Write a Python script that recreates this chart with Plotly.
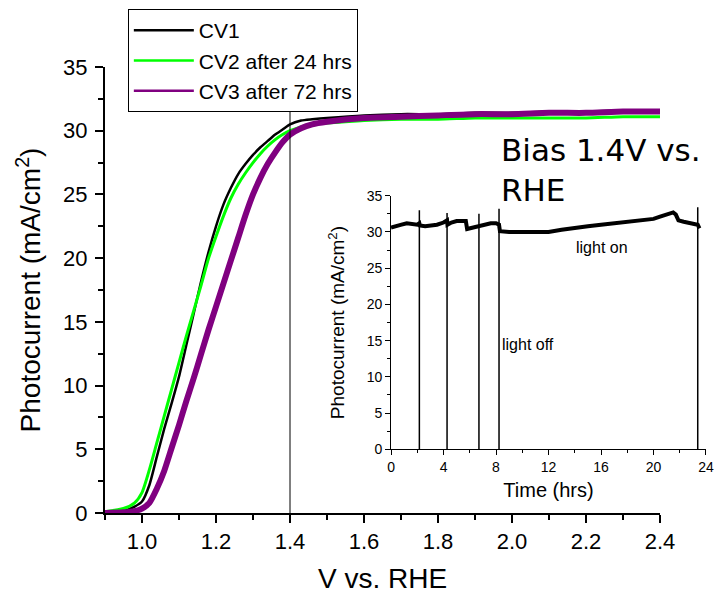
import plotly.graph_objects as go

# CV scans (V vs. RHE, mA/cm2)
volts = [0.90, 0.95, 0.98, 1.00, 1.02, 1.04, 1.06, 1.08, 1.10, 1.12, 1.14, 1.16,
         1.18, 1.20, 1.22, 1.24, 1.26, 1.28, 1.30, 1.32, 1.34, 1.36, 1.38, 1.40,
         1.43, 1.46, 1.50, 1.60, 1.70, 1.80, 1.90, 2.00, 2.10, 2.20, 2.30, 2.40]
cv1 = [0.05, 0.15, 0.5, 0.9, 2.2, 4.4, 6.6, 8.6, 10.7, 13.2, 15.7, 18.2,
       20.5, 22.5, 24.2, 25.5, 26.6, 27.4, 28.1, 28.7, 29.2, 29.7, 30.1, 30.5,
       30.8, 30.9, 31.0, 31.2, 31.3, 31.3, 31.4, 31.4, 31.5, 31.5, 31.6, 31.6]
cv2 = [0.1, 0.35, 0.8, 1.6, 3.4, 5.5, 7.6, 9.7, 11.8, 13.9, 15.9, 17.9,
       20.0, 21.7, 23.3, 24.7, 25.8, 26.7, 27.5, 28.2, 28.8, 29.3, 29.7, 30.0,
       30.3, 30.5, 30.6, 30.8, 30.9, 30.9, 31.0, 31.0, 31.0, 31.0, 31.1, 31.1]
cv3 = [0.0, 0.05, 0.15, 0.35, 0.8, 1.9, 3.3, 5.1, 6.9, 8.8, 10.6, 12.5,
       14.4, 16.2, 18.0, 19.8, 21.6, 23.4, 25.0, 26.3, 27.4, 28.3, 29.1, 29.7,
       30.2, 30.5, 30.7, 31.0, 31.1, 31.2, 31.3, 31.3, 31.4, 31.4, 31.5, 31.5]
cv_names = ["CV1", "CV2 after 24 hrs", "CV3 after 72 hrs"]

# stability test at 1.4 V (time in hrs)
hours = [0, 0.3, 0.8, 1.2, 1.6, 2.0, 2.16, 2.2, 2.6, 3.0, 3.5, 4.0, 4.27,
         4.3, 4.6, 5.0, 5.4, 5.7, 5.8, 6.0, 6.4, 6.7, 6.75, 7.2, 7.6, 8.0, 8.23,
         8.3, 9, 10, 11, 12, 13, 14, 15, 16, 17, 18, 19, 20, 20.5, 21, 21.5,
         21.7, 21.9, 22.3, 23, 23.37, 23.5]
current = [30.6, 30.8, 31.0, 31.2, 31.1, 31.0, 31.2, 30.9, 30.8, 30.9, 31.0, 31.3, 31.6,
           31.0, 31.3, 31.5, 31.5, 31.5, 30.4, 30.5, 30.7, 30.8, 30.9, 31.1, 31.2, 31.2, 31.0,
           30.1, 30.0, 30.0, 30.0, 30.0, 30.3, 30.6, 30.8, 31.0, 31.2, 31.4, 31.6, 31.8, 32.1, 32.4, 32.7,
           32.4, 31.6, 31.4, 31.2, 31.0, 30.5]
# light-off moments: spike up then drop to zero
off_hours = [2.16, 4.27, 6.70, 8.23, 23.37]
off_peaks = [33.0, 32.6, 32.5, 33.2, 33.4]

spike_x, spike_y = [], []
for t, p in zip(off_hours, off_peaks):
    spike_x += [t, t, None]
    spike_y += [p, 0, None]

FONT = "Liberation Sans, Arial, sans-serif"
colors = ["black", "#00ff00", "#800080"]
widths = [2.5, 3, 6]

fig = go.Figure()
for ys, name, c, w in zip([cv1, cv2, cv3], cv_names, colors, widths):
    fig.add_trace(go.Scatter(x=volts, y=ys, mode="lines", name=name, showlegend=False,
                             line=dict(color=c, width=w, shape="spline", smoothing=0.6)))
# legend entries with thin sample lines
for name, c in zip(cv_names, colors):
    fig.add_trace(go.Scatter(x=[None], y=[None], mode="lines", name=name,
                             line=dict(color=c, width=2.5)))

fig.add_trace(go.Scatter(x=hours, y=current, mode="lines", showlegend=False,
                         xaxis="x2", yaxis="y2", line=dict(color="black", width=4)))
fig.add_trace(go.Scatter(x=spike_x, y=spike_y, mode="lines", showlegend=False,
                         xaxis="x2", yaxis="y2", line=dict(color="black", width=1.5)))

fig.add_shape(type="line", xref="x", yref="y", x0=1.4, x1=1.4, y0=0, y1=35,
              line=dict(color="black", width=1))

axis_common = dict(showline=True, linecolor="black", ticks="outside", tickcolor="black",
                   showgrid=False, zeroline=False, mirror=False, automargin=False)

fig.update_layout(
    width=714, height=597,
    margin=dict(l=105, r=8, t=67, b=84),
    plot_bgcolor="white", paper_bgcolor="white",
    font=dict(family=FONT, color="black"),
    xaxis=dict(axis_common, domain=[0, 0.9235], range=[0.9, 2.4],
               tickvals=[1.0, 1.2, 1.4, 1.6, 1.8, 2.0, 2.2, 2.4], tickformat=".1f",
               linewidth=2, tickwidth=2, ticklen=8, tickfont=dict(size=22),
               minor=dict(dtick=0.1, ticks="outside", ticklen=5, tickwidth=1.5, tickcolor="black"),
               title=dict(text="V vs. RHE", font=dict(size=28), standoff=15)),
    yaxis=dict(axis_common, range=[0, 35], dtick=5, ticklabelstandoff=3,
               linewidth=2, tickwidth=2, ticklen=8, tickfont=dict(size=22),
               minor=dict(dtick=2.5, ticks="outside", ticklen=5, tickwidth=1.5, tickcolor="black"),
               title=dict(text="Photocurrent (mA/cm<sup>2</sup>)", font=dict(size=28), standoff=14)),
    xaxis2=dict(axis_common, domain=[0.4759, 1.0], anchor="y2", range=[0, 24], dtick=4,
                linewidth=1, tickwidth=1, ticklen=5, tickfont=dict(size=14),
                minor=dict(dtick=2, ticks="outside", ticklen=3, tickwidth=1, tickcolor="black"),
                title=dict(text="Time (hrs)", font=dict(size=20), standoff=8)),
    yaxis2=dict(axis_common, domain=[0.1428, 0.7114], anchor="x2", range=[0, 35], dtick=5,
                linewidth=1, tickwidth=1, ticklen=5, tickfont=dict(size=14),
                minor=dict(dtick=2.5, ticks="outside", ticklen=3, tickwidth=1, tickcolor="black"),
                title=dict(text="Photocurrent (mA/cm<sup>2</sup>)", font=dict(size=19), standoff=16)),
    legend=dict(x=0.038, y=1.13, xanchor="left", yanchor="top",
                bgcolor="white", bordercolor="black", borderwidth=1,
                font=dict(size=21), itemwidth=60, tracegroupgap=0),
)

fig.add_annotation(xref="paper", yref="paper", x=0.655, y=0.769, xanchor="left", yanchor="middle",
                   text="Bias 1.4V vs.<br>RHE", align="left", showarrow=False,
                   font=dict(family="DejaVu Sans, sans-serif", size=31, color="black"))
fig.add_annotation(xref="x2", yref="y2", x=16.1, y=27.8, text="light on", showarrow=False,
                   font=dict(size=16))
fig.add_annotation(xref="x2", yref="y2", x=10.4, y=14.5, text="light off", showarrow=False,
                   font=dict(size=16))

# drop the default page margin so the figure sits at the window's corner
fig.write_html("out.html", config={"displayModeBar": False},
               post_script="document.body.style.margin='0';")
